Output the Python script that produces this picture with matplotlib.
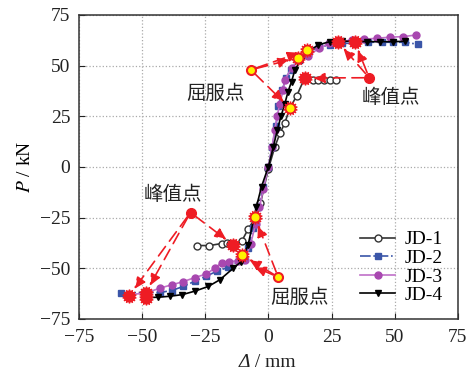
import matplotlib
matplotlib.use('Agg')
import matplotlib.pyplot as plt

plt.rcParams['font.family'] = ['Liberation Serif', 'Noto Sans CJK SC']
plt.rcParams['mathtext.fontset'] = 'stix'

# skeleton curves (displacement mm, load kN)
jd1_x = [-28.2, -23.3, -18.5, -16.5, -15.2, -13.9, -10.6, -8.0, -5.0, -3.1, 0.0,
         2.6, 4.6, 6.5, 8.5, 11.2, 14.4, 17.7, 19.7, 22.0, 24.3, 26.8]
jd1_y = [-38.8, -38.8, -37.8, -37.6, -37.8, -38.5, -36.8, -30.7, -24.8, -17.9, -1.0,
         10.0, 16.6, 21.6, 29.0, 35.0, 43.9, 43.0, 43.0, 43.0, 43.0, 42.9]

jd2_x = [-58.3, -48.6, -43.0, -38.3, -33.7, -29.1, -24.5, -20.5, -15.9, -11.0, -8.0,
         -6.0, -4.0, -2.0, 0.0, 1.5, 3.0, 4.0, 5.5, 7.0, 9.0, 12.0, 16.0, 20.0,
         24.3, 29.0, 34.0, 39.5, 44.8, 49.4, 54.0, 59.3]
jd2_y = [-62.0, -62.0, -62.0, -61.0, -59.0, -56.4, -53.8, -51.6, -49.5, -46.0, -40.0,
         -30.0, -20.0, -10.0, 0.0, 10.0, 20.0, 30.0, 38.0, 44.0, 48.0, 53.0, 57.0, 59.0,
         60.2, 61.0, 61.0, 61.5, 61.5, 61.5, 61.5, 60.5]

jd3_x = [-55.0, -48.6, -42.9, -38.3, -33.7, -29.1, -24.5, -21.2, -18.5, -15.5, -12.0,
         -9.3, -7.0, -5.0, -3.5, -2.0, 0.0, 1.5, 2.5, 3.5, 4.5, 5.9, 6.5, 9.2, 12.0,
         15.8, 20.0, 24.0, 28.0, 33.0, 38.0, 43.0, 48.0, 53.3, 58.6]
jd3_y = [-63.0, -62.3, -59.8, -58.2, -56.6, -54.6, -52.8, -50.0, -47.2, -46.7, -46.3,
         -45.9, -38.0, -28.0, -20.0, -11.0, 0.0, 10.0, 18.0, 25.0, 31.0, 38.0, 43.0, 48.7, 53.0,
         54.8, 58.5, 61.0, 62.0, 62.5, 63.0, 63.5, 64.0, 64.3, 65.1]

jd4_x = [-48.6, -43.6, -38.8, -34.0, -29.1, -23.8, -19.2, -13.9, -11.0, -8.0, -4.7,
         -2.7, 0.0, 2.0, 3.5, 5.0, 6.5, 7.8, 9.2, 10.5, 13.0, 16.0, 19.7, 24.3, 29.0,
         34.0, 38.9, 44.1, 49.4, 54.0]
jd4_y = [-64.5, -64.3, -63.8, -63.0, -61.3, -59.0, -55.7, -50.0, -47.0, -38.5, -19.6,
         -9.7, 0.0, 10.0, 18.0, 25.0, 31.0, 37.2, 42.1, 47.9, 53.0, 57.0, 60.2, 61.8, 62.0,
         62.0, 61.8, 61.8, 61.8, 62.0]

# characteristic points
peak_x = [27.5, 34.2, 14.4, -13.9, -55.1, -48.6, -48.6]
peak_y = [61.8, 61.8, 43.9, -38.5, -63.6, -62.3, -64.5]
yield_x = [11.8, 15.4, 8.5, -5.3, -10.4]
yield_y = [53.9, 57.7, 29.0, -24.8, -43.4]

# label anchors: (text, text position, anchor point, arrow targets, kind)
notes = [
    ('屈服点', (-21.0, 36.0), (-6.9, 47.9), [(11.8, 53.9), (15.4, 57.7), (8.5, 29.0)], 'yield'),
    ('峰值点', (48.5, 34.0), (39.9, 44.0), [(14.4, 43.9), (27.5, 61.8), (34.2, 61.8)], 'peak'),
    ('峰值点', (-37.8, -14.0), (-30.8, -22.5), [(-13.9, -38.5), (-55.1, -63.6), (-48.6, -62.3)], 'peak'),
    ('屈服点', (12.5, -64.6), (3.9, -54.4), [(-5.3, -24.8), (-10.4, -43.4), (-8.6, -47.5)], 'yield'),
]

fig = plt.figure(figsize=(4.72, 3.73), dpi=100)
ax = fig.add_axes([0.167, 0.145, 0.803, 0.815])

ax.plot(jd1_x, jd1_y, '-o', color='#333333', mfc='white', mec='#333333', ms=5, lw=1.2,
        label='JD-1', zorder=3)
ax.plot(jd2_x, jd2_y, '-.s', color='#3a55a8', mfc='#3a55a8', mec='#3a55a8', ms=4.5, lw=1.2,
        label='JD-2', zorder=3)
ax.plot(jd3_x, jd3_y, '-o', color='#c070c8', mfc='#a848b0', mec='#a848b0', ms=5, lw=1.2,
        label='JD-3', zorder=3)
ax.plot(jd4_x, jd4_y, '-v', color='black', mfc='black', mec='black', ms=5, lw=1.2,
        label='JD-4', zorder=3)

# jagged red markers for peaks, yellow-centred ones for yield points
ax.plot(peak_x, peak_y, ls='none', marker=(14, 1, 0), ms=10, color='#ee1c24', zorder=5)
ax.plot(peak_x, peak_y, ls='none', marker='o', ms=7.5, color='#ee1c24', zorder=5)
ax.plot(yield_x, yield_y, ls='none', marker=(14, 1, 0), ms=10, color='#ee1c24', zorder=5)
ax.plot(yield_x, yield_y, ls='none', marker='o', ms=7, color='#ee1c24', zorder=5)
ax.plot(yield_x, yield_y, ls='none', marker='o', ms=4.8, color='#fff200', zorder=6)

for label, txt_pos, anchor, targets, kind in notes:
    ax.text(txt_pos[0], txt_pos[1], label, fontsize=14, ha='center', va='center',
            color='#222222', zorder=7)
    for tx, ty in targets:
        ax.annotate('', xy=(tx, ty), xytext=anchor, zorder=6,
                    arrowprops=dict(arrowstyle='-|>,head_length=0.7,head_width=0.3',
                                    color='#ee1c24', lw=1.2, linestyle=(0, (7, 4)),
                                    shrinkA=4, shrinkB=6))
    if kind == 'yield':
        ax.plot(*anchor, marker='o', ms=6.5, mfc='#fff200', mec='#ee1c24', mew=1.5, zorder=8)
    else:
        ax.plot(*anchor, marker='o', ms=7, color='#ee1c24', zorder=8)

ax.set_xlim(-75, 75)
ax.set_ylim(-75, 75)
ax.set_xticks([-75, -50, -25, 0, 25, 50, 75])
ax.set_yticks([-75, -50, -25, 0, 25, 50, 75])
ax.tick_params(direction='in', length=4, labelsize=14, colors='#222222')
ax.tick_params(axis='x', pad=7)
ax.tick_params(axis='y', pad=6)
ax.grid(True, ls=':', color='#aaaaaa', lw=0.9)
for sp in ax.spines.values():
    sp.set_color('#333333')
    sp.set_linewidth(1.1)

# axis titles: italic symbol followed by upright unit
ax.text(0.452, -0.142, 'Δ', transform=ax.transAxes, fontsize=14, style='italic',
        ha='right', va='center', color='#222222')
ax.text(0.452, -0.142, ' / mm', transform=ax.transAxes, fontsize=14,
        ha='left', va='center', color='#222222')
ax.set_ylabel(r'$\mathit{P}$ / kN', fontsize=14, labelpad=4)

ax.legend(loc='lower right', bbox_to_anchor=(0.99, 0.01), frameon=False, fontsize=14,
          handlelength=1.8, handletextpad=0.45, labelspacing=0.05, borderaxespad=0.2)

fig.savefig('out.png', dpi=100)
